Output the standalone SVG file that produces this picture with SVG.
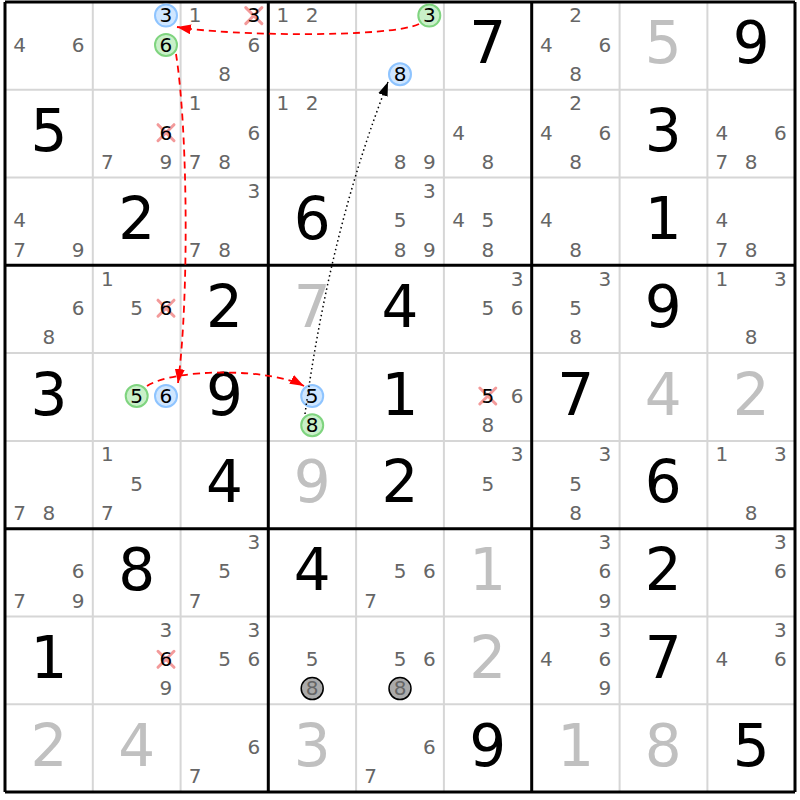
<svg xmlns="http://www.w3.org/2000/svg" width="800" height="800" viewBox="0 0 800 800">
<style>
text{font-family:"DejaVu Sans",Verdana,sans-serif;text-anchor:middle}
.g{font-size:58px;fill:#000}
.s{font-size:58px;fill:#c0c0c0}
.c{font-size:20px;fill:#666}
.k{font-size:20px;fill:#000}
.thin{stroke:#d6d6d6;stroke-width:2}
.thick{stroke:#000;stroke-width:3}
.cb{fill:#cfe6ff;stroke:#8ec4ff;stroke-width:2}
.cg{fill:#c9f0c9;stroke:#7fd47f;stroke-width:2}
.cx{fill:#aaa;stroke:#000;stroke-width:1.5}
.x{stroke:#f39a9a;stroke-width:3;stroke-linecap:round}
.rd{fill:none;stroke:#f00;stroke-width:1.8;stroke-dasharray:7 5}
.dt{fill:none;stroke:#000;stroke-width:1.5;stroke-dasharray:1.5 3}
</style>
<defs>
<marker id="ar" viewBox="0 0 14 10" refX="14" refY="5" markerWidth="14" markerHeight="10" markerUnits="userSpaceOnUse" orient="auto"><path d="M0,0 L14,5 L0,10 z" fill="#f00"/></marker>
<marker id="ab" viewBox="0 0 14 10" refX="14" refY="5" markerWidth="14" markerHeight="10" markerUnits="userSpaceOnUse" orient="auto"><path d="M0,0 L14,5 L0,10 z" fill="#000"/></marker>
<path id="xm" class="x" d="M-8,-9L8,7M8,-9L-8,7"/>
</defs>
<rect width="800" height="800" fill="#fff"/>
<g id="grid">
<path class="thin" d="M92.8,2V792M180.6,2V792M356.1,2V792M443.9,2V792M619.6,2V792M707.4,2V792M5,89.8H795M5,177.6H795M5,353.1H795M5,440.9H795M5,616.4H795M5,704.2H795"/>
<path class="thick" d="M5,2V792M268.3,2V792M531.7,2V792M795,2V792M5,2H795M5,265.3H795M5,528.7H795M5,792H795"/>
</g>
<g id="cells">
<!-- row 0 -->
<g id="r0c0" transform="translate(48.9,45.9)"><text class="c" x="-29.3" y="5.8">4</text><text class="c" x="29.3" y="5.8">6</text></g>
<g id="r0c1" transform="translate(136.7,45.9)"><circle class="cb" cx="29.3" cy="-30.3" r="11"/><text class="k" x="29.3" y="-23.5">3</text><circle class="cg" cx="29.3" cy="-1" r="11"/><text class="k" x="29.3" y="5.8">6</text></g>
<g id="r0c2" transform="translate(224.5,45.9)"><text class="c" x="-29.3" y="-23.5">1</text><use href="#xm" x="29.3" y="-29.3"/><text class="k" x="29.3" y="-23.5">3</text><text class="c" x="29.3" y="5.8">6</text><text class="c" x="0" y="35.1">8</text></g>
<g id="r0c3" transform="translate(312.2,45.9)"><text class="c" x="-29.3" y="-23.5">1</text><text class="c" x="0" y="-23.5">2</text></g>
<g id="r0c4" transform="translate(400,45.9)"><circle class="cg" cx="29.3" cy="-30.3" r="11"/><text class="k" x="29.3" y="-23.5">3</text><circle class="cb" cx="0" cy="28.3" r="11"/><text class="k" x="0" y="35.1">8</text></g>
<g id="r0c5" transform="translate(487.8,45.9)"><text class="g" y="17.5">7</text></g>
<g id="r0c6" transform="translate(575.6,45.9)"><text class="c" x="0" y="-23.5">2</text><text class="c" x="-29.3" y="5.8">4</text><text class="c" x="29.3" y="5.8">6</text><text class="c" x="0" y="35.1">8</text></g>
<g id="r0c7" transform="translate(663.3,45.9)"><text class="s" y="17.5">5</text></g>
<g id="r0c8" transform="translate(751.1,45.9)"><text class="g" y="17.5">9</text></g>
<!-- row 1 -->
<g id="r1c0" transform="translate(48.9,133.7)"><text class="g" y="17.5">5</text></g>
<g id="r1c1" transform="translate(136.7,133.7)"><use href="#xm" x="29.3" y="0"/><text class="k" x="29.3" y="5.8">6</text><text class="c" x="-29.3" y="35.1">7</text><text class="c" x="29.3" y="35.1">9</text></g>
<g id="r1c2" transform="translate(224.5,133.7)"><text class="c" x="-29.3" y="-23.5">1</text><text class="c" x="29.3" y="5.8">6</text><text class="c" x="-29.3" y="35.1">7</text><text class="c" x="0" y="35.1">8</text></g>
<g id="r1c3" transform="translate(312.2,133.7)"><text class="c" x="-29.3" y="-23.5">1</text><text class="c" x="0" y="-23.5">2</text></g>
<g id="r1c4" transform="translate(400,133.7)"><text class="c" x="0" y="35.1">8</text><text class="c" x="29.3" y="35.1">9</text></g>
<g id="r1c5" transform="translate(487.8,133.7)"><text class="c" x="-29.3" y="5.8">4</text><text class="c" x="0" y="35.1">8</text></g>
<g id="r1c6" transform="translate(575.6,133.7)"><text class="c" x="0" y="-23.5">2</text><text class="c" x="-29.3" y="5.8">4</text><text class="c" x="29.3" y="5.8">6</text><text class="c" x="0" y="35.1">8</text></g>
<g id="r1c7" transform="translate(663.3,133.7)"><text class="g" y="17.5">3</text></g>
<g id="r1c8" transform="translate(751.1,133.7)"><text class="c" x="-29.3" y="5.8">4</text><text class="c" x="29.3" y="5.8">6</text><text class="c" x="-29.3" y="35.1">7</text><text class="c" x="0" y="35.1">8</text></g>
<!-- row 2 -->
<g id="r2c0" transform="translate(48.9,221.5)"><text class="c" x="-29.3" y="5.8">4</text><text class="c" x="-29.3" y="35.1">7</text><text class="c" x="29.3" y="35.1">9</text></g>
<g id="r2c1" transform="translate(136.7,221.5)"><text class="g" y="17.5">2</text></g>
<g id="r2c2" transform="translate(224.5,221.5)"><text class="c" x="29.3" y="-23.5">3</text><text class="c" x="-29.3" y="35.1">7</text><text class="c" x="0" y="35.1">8</text></g>
<g id="r2c3" transform="translate(312.2,221.5)"><text class="g" y="17.5">6</text></g>
<g id="r2c4" transform="translate(400,221.5)"><text class="c" x="29.3" y="-23.5">3</text><text class="c" x="0" y="5.8">5</text><text class="c" x="0" y="35.1">8</text><text class="c" x="29.3" y="35.1">9</text></g>
<g id="r2c5" transform="translate(487.8,221.5)"><text class="c" x="-29.3" y="5.8">4</text><text class="c" x="0" y="5.8">5</text><text class="c" x="0" y="35.1">8</text></g>
<g id="r2c6" transform="translate(575.6,221.5)"><text class="c" x="-29.3" y="5.8">4</text><text class="c" x="0" y="35.1">8</text></g>
<g id="r2c7" transform="translate(663.3,221.5)"><text class="g" y="17.5">1</text></g>
<g id="r2c8" transform="translate(751.1,221.5)"><text class="c" x="-29.3" y="5.8">4</text><text class="c" x="-29.3" y="35.1">7</text><text class="c" x="0" y="35.1">8</text></g>
<!-- row 3 -->
<g id="r3c0" transform="translate(48.9,309.2)"><text class="c" x="29.3" y="5.8">6</text><text class="c" x="0" y="35.1">8</text></g>
<g id="r3c1" transform="translate(136.7,309.2)"><text class="c" x="-29.3" y="-23.5">1</text><text class="c" x="0" y="5.8">5</text><use href="#xm" x="29.3" y="0"/><text class="k" x="29.3" y="5.8">6</text></g>
<g id="r3c2" transform="translate(224.5,309.2)"><text class="g" y="17.5">2</text></g>
<g id="r3c3" transform="translate(312.2,309.2)"><text class="s" y="17.5">7</text></g>
<g id="r3c4" transform="translate(400,309.2)"><text class="g" y="17.5">4</text></g>
<g id="r3c5" transform="translate(487.8,309.2)"><text class="c" x="29.3" y="-23.5">3</text><text class="c" x="0" y="5.8">5</text><text class="c" x="29.3" y="5.8">6</text></g>
<g id="r3c6" transform="translate(575.6,309.2)"><text class="c" x="29.3" y="-23.5">3</text><text class="c" x="0" y="5.8">5</text><text class="c" x="0" y="35.1">8</text></g>
<g id="r3c7" transform="translate(663.3,309.2)"><text class="g" y="17.5">9</text></g>
<g id="r3c8" transform="translate(751.1,309.2)"><text class="c" x="-29.3" y="-23.5">1</text><text class="c" x="29.3" y="-23.5">3</text><text class="c" x="0" y="35.1">8</text></g>
<!-- row 4 -->
<g id="r4c0" transform="translate(48.9,397)"><text class="g" y="17.5">3</text></g>
<g id="r4c1" transform="translate(136.7,397)"><circle class="cg" cx="0" cy="-1" r="11"/><text class="k" x="0" y="5.8">5</text><circle class="cb" cx="29.3" cy="-1" r="11"/><text class="k" x="29.3" y="5.8">6</text></g>
<g id="r4c2" transform="translate(224.5,397)"><text class="g" y="17.5">9</text></g>
<g id="r4c3" transform="translate(312.2,397)"><circle class="cb" cx="0" cy="-1" r="11"/><text class="k" x="0" y="5.8">5</text><circle class="cg" cx="0" cy="28.3" r="11"/><text class="k" x="0" y="35.1">8</text></g>
<g id="r4c4" transform="translate(400,397)"><text class="g" y="17.5">1</text></g>
<g id="r4c5" transform="translate(487.8,397)"><use href="#xm" x="0" y="0"/><text class="k" x="0" y="5.8">5</text><text class="c" x="29.3" y="5.8">6</text><text class="c" x="0" y="35.1">8</text></g>
<g id="r4c6" transform="translate(575.6,397)"><text class="g" y="17.5">7</text></g>
<g id="r4c7" transform="translate(663.3,397)"><text class="s" y="17.5">4</text></g>
<g id="r4c8" transform="translate(751.1,397)"><text class="s" y="17.5">2</text></g>
<!-- row 5 -->
<g id="r5c0" transform="translate(48.9,484.8)"><text class="c" x="-29.3" y="35.1">7</text><text class="c" x="0" y="35.1">8</text></g>
<g id="r5c1" transform="translate(136.7,484.8)"><text class="c" x="-29.3" y="-23.5">1</text><text class="c" x="0" y="5.8">5</text><text class="c" x="-29.3" y="35.1">7</text></g>
<g id="r5c2" transform="translate(224.5,484.8)"><text class="g" y="17.5">4</text></g>
<g id="r5c3" transform="translate(312.2,484.8)"><text class="s" y="17.5">9</text></g>
<g id="r5c4" transform="translate(400,484.8)"><text class="g" y="17.5">2</text></g>
<g id="r5c5" transform="translate(487.8,484.8)"><text class="c" x="29.3" y="-23.5">3</text><text class="c" x="0" y="5.8">5</text></g>
<g id="r5c6" transform="translate(575.6,484.8)"><text class="c" x="29.3" y="-23.5">3</text><text class="c" x="0" y="5.8">5</text><text class="c" x="0" y="35.1">8</text></g>
<g id="r5c7" transform="translate(663.3,484.8)"><text class="g" y="17.5">6</text></g>
<g id="r5c8" transform="translate(751.1,484.8)"><text class="c" x="-29.3" y="-23.5">1</text><text class="c" x="29.3" y="-23.5">3</text><text class="c" x="0" y="35.1">8</text></g>
<!-- row 6 -->
<g id="r6c0" transform="translate(48.9,572.6)"><text class="c" x="29.3" y="5.8">6</text><text class="c" x="-29.3" y="35.1">7</text><text class="c" x="29.3" y="35.1">9</text></g>
<g id="r6c1" transform="translate(136.7,572.6)"><text class="g" y="17.5">8</text></g>
<g id="r6c2" transform="translate(224.5,572.6)"><text class="c" x="29.3" y="-23.5">3</text><text class="c" x="0" y="5.8">5</text><text class="c" x="-29.3" y="35.1">7</text></g>
<g id="r6c3" transform="translate(312.2,572.6)"><text class="g" y="17.5">4</text></g>
<g id="r6c4" transform="translate(400,572.6)"><text class="c" x="0" y="5.8">5</text><text class="c" x="29.3" y="5.8">6</text><text class="c" x="-29.3" y="35.1">7</text></g>
<g id="r6c5" transform="translate(487.8,572.6)"><text class="s" y="17.5">1</text></g>
<g id="r6c6" transform="translate(575.6,572.6)"><text class="c" x="29.3" y="-23.5">3</text><text class="c" x="29.3" y="5.8">6</text><text class="c" x="29.3" y="35.1">9</text></g>
<g id="r6c7" transform="translate(663.3,572.6)"><text class="g" y="17.5">2</text></g>
<g id="r6c8" transform="translate(751.1,572.6)"><text class="c" x="29.3" y="-23.5">3</text><text class="c" x="29.3" y="5.8">6</text></g>
<!-- row 7 -->
<g id="r7c0" transform="translate(48.9,660.3)"><text class="g" y="17.5">1</text></g>
<g id="r7c1" transform="translate(136.7,660.3)"><text class="c" x="29.3" y="-23.5">3</text><use href="#xm" x="29.3" y="0"/><text class="k" x="29.3" y="5.8">6</text><text class="c" x="29.3" y="35.1">9</text></g>
<g id="r7c2" transform="translate(224.5,660.3)"><text class="c" x="29.3" y="-23.5">3</text><text class="c" x="0" y="5.8">5</text><text class="c" x="29.3" y="5.8">6</text></g>
<g id="r7c3" transform="translate(312.2,660.3)"><text class="c" x="0" y="5.8">5</text><circle class="cx" cx="0" cy="28.3" r="11"/><text class="c" x="0" y="35.1">8</text></g>
<g id="r7c4" transform="translate(400,660.3)"><text class="c" x="0" y="5.8">5</text><text class="c" x="29.3" y="5.8">6</text><circle class="cx" cx="0" cy="28.3" r="11"/><text class="c" x="0" y="35.1">8</text></g>
<g id="r7c5" transform="translate(487.8,660.3)"><text class="s" y="17.5">2</text></g>
<g id="r7c6" transform="translate(575.6,660.3)"><text class="c" x="29.3" y="-23.5">3</text><text class="c" x="-29.3" y="5.8">4</text><text class="c" x="29.3" y="5.8">6</text><text class="c" x="29.3" y="35.1">9</text></g>
<g id="r7c7" transform="translate(663.3,660.3)"><text class="g" y="17.5">7</text></g>
<g id="r7c8" transform="translate(751.1,660.3)"><text class="c" x="29.3" y="-23.5">3</text><text class="c" x="-29.3" y="5.8">4</text><text class="c" x="29.3" y="5.8">6</text></g>
<!-- row 8 -->
<g id="r8c0" transform="translate(48.9,748.1)"><text class="s" y="17.5">2</text></g>
<g id="r8c1" transform="translate(136.7,748.1)"><text class="s" y="17.5">4</text></g>
<g id="r8c2" transform="translate(224.5,748.1)"><text class="c" x="29.3" y="5.8">6</text><text class="c" x="-29.3" y="35.1">7</text></g>
<g id="r8c3" transform="translate(312.2,748.1)"><text class="s" y="17.5">3</text></g>
<g id="r8c4" transform="translate(400,748.1)"><text class="c" x="29.3" y="5.8">6</text><text class="c" x="-29.3" y="35.1">7</text></g>
<g id="r8c5" transform="translate(487.8,748.1)"><text class="g" y="17.5">9</text></g>
<g id="r8c6" transform="translate(575.6,748.1)"><text class="s" y="17.5">1</text></g>
<g id="r8c7" transform="translate(663.3,748.1)"><text class="s" y="17.5">8</text></g>
<g id="r8c8" transform="translate(751.1,748.1)"><text class="g" y="17.5">5</text></g>
</g>
<g id="connectors">
<path class="rd" d="M419,24 C390,38 230,36 177,27" marker-end="url(#ar)"/>
<path class="rd" d="M176,54 C188,130 189,300 178,383" marker-end="url(#ar)"/>
<path class="rd" d="M147,386 C175,368 270,368 304,386" marker-end="url(#ar)"/>
<path class="dt" d="M305,414 Q330,230 388,82" marker-end="url(#ab)"/>
</g>
</svg>
